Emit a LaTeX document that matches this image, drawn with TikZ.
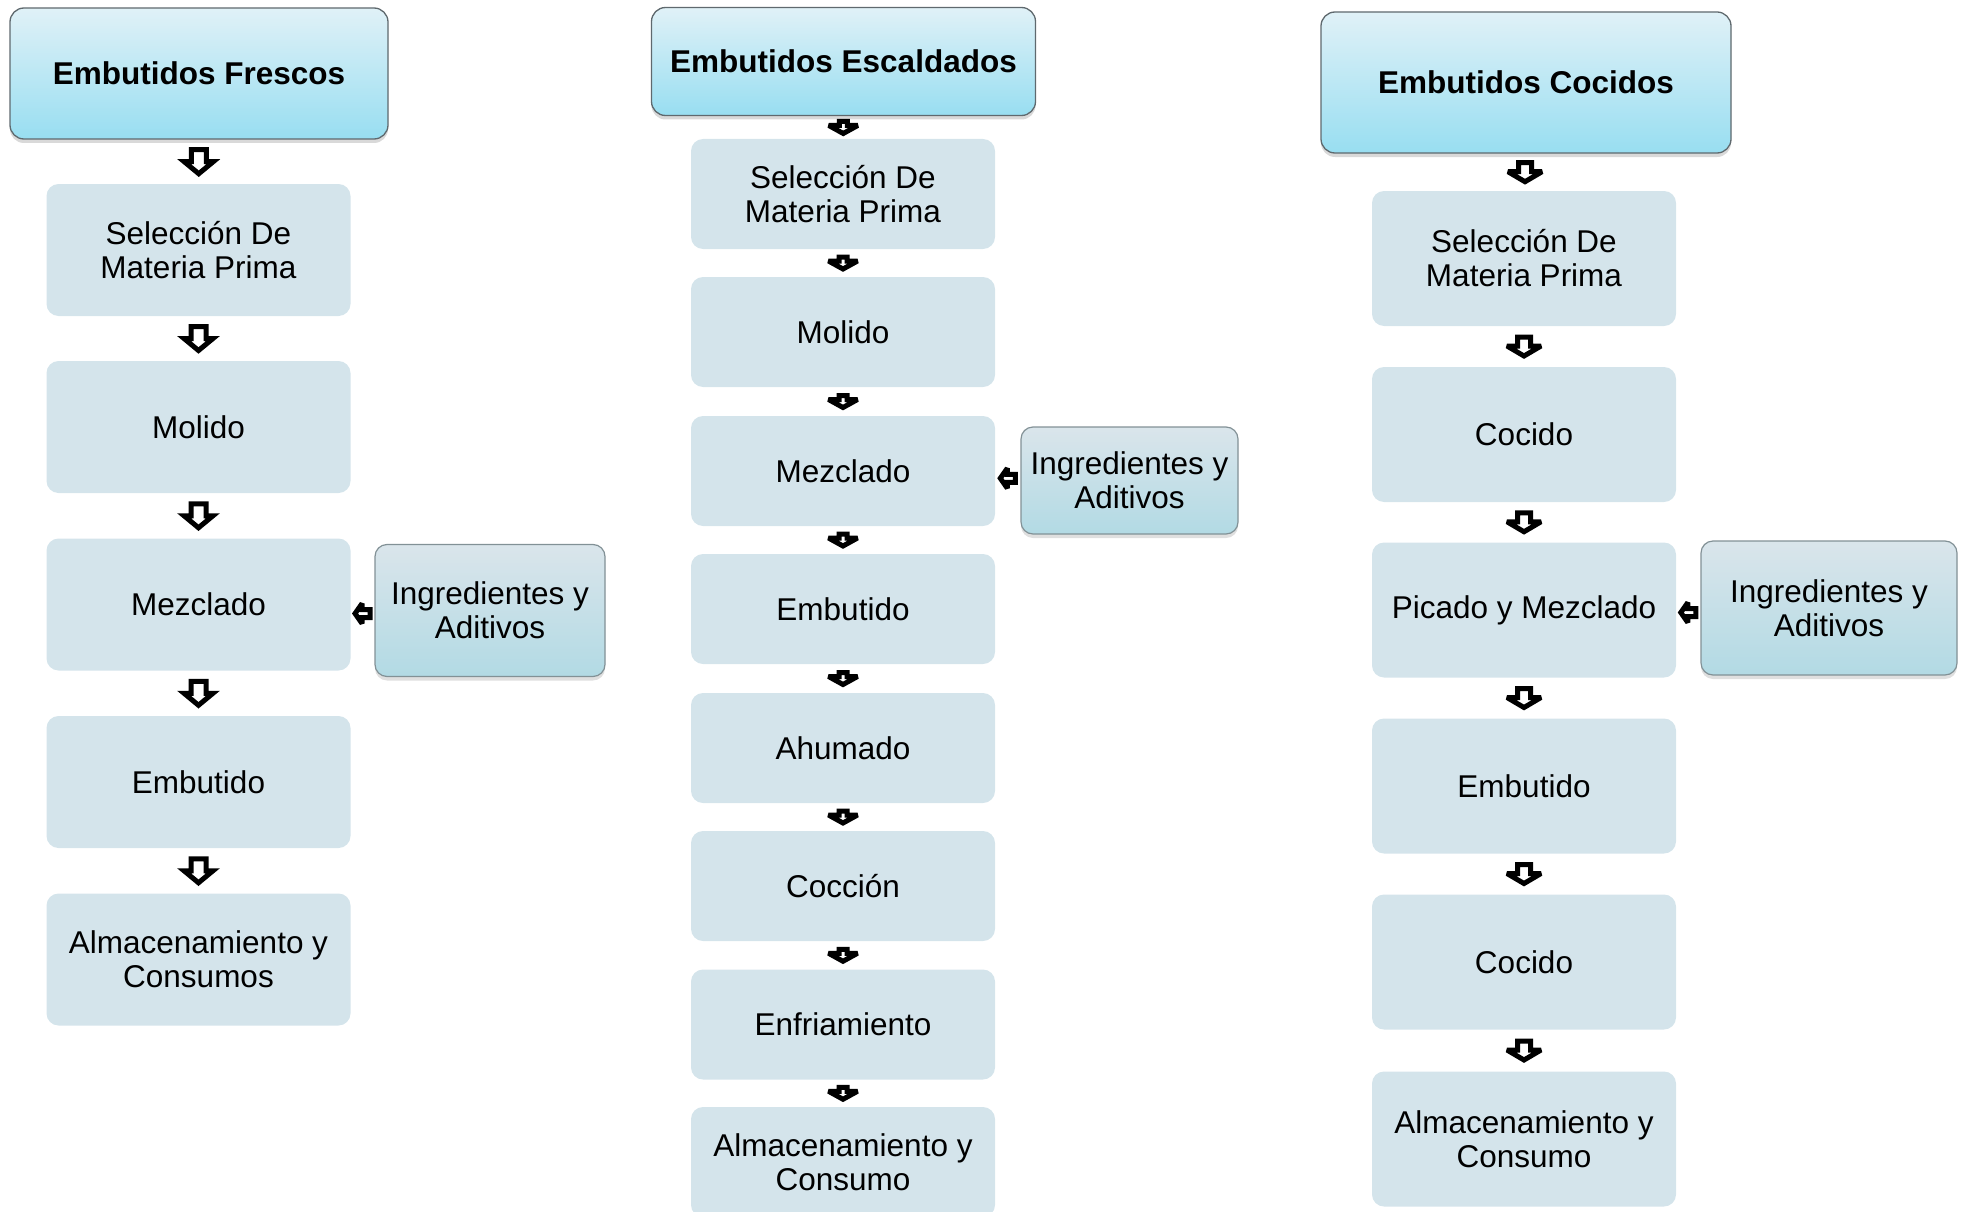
\documentclass[tikz,border=0pt]{standalone}
\usepackage{fontspec}
\setmainfont{Liberation Sans}
\usetikzlibrary{calc,shadows}
\definecolor{stepfill}{RGB}{212,228,235}
\definecolor{headtop}{RGB}{224,241,247}
\definecolor{headbot}{RGB}{152,222,241}
\definecolor{headline}{RGB}{95,105,110}
\definecolor{ingtop}{RGB}{218,229,235}
\definecolor{ingbot}{RGB}{178,218,228}
\definecolor{ingline}{RGB}{130,145,150}
\begin{document}
\begin{tikzpicture}[x=1pt,y=-1pt,
  txt/.style={font=\fontsize{31.5}{34}\selectfont},
  stepbox/.style={txt, rounded corners=12pt, fill=stepfill, inner sep=0pt, align=center, minimum width=304pt},
  headbox/.style={font=\fontsize{31.5}{34}\selectfont\bfseries, rounded corners=14pt, draw=headline, line width=1.3pt,
     top color=headtop, bottom color=headbot, inner sep=0pt, align=center,
     drop shadow={opacity=0.3, shadow xshift=0pt, shadow yshift=-4pt}},
  ingbox/.style={txt, rounded corners=12pt, draw=ingline, line width=1.2pt,
     top color=ingtop, bottom color=ingbot, inner sep=0pt, align=center,
     drop shadow={opacity=0.25, shadow xshift=0pt, shadow yshift=-4pt}},
  arrowline/.style={draw=black, fill=white, line width=5pt, line join=miter, miter limit=3},
  pics/blockdown/.style n args={4}{code={
     \path[arrowline] (-#3/2,-#2/2) -- (#3/2,-#2/2) -- (#3/2,-#2/2+#4) -- (#1/2,-#2/2+#4)
        -- (0,#2/2) -- (-#1/2,-#2/2+#4) -- (-#3/2,-#2/2+#4) -- cycle;}},
  pics/blockleft/.style n args={4}{code={
     \path[arrowline] (#1/2,-#3/2) -- (-#1/2+#4,-#3/2) -- (-#1/2+#4,-#2/2) -- (-#1/2,0)
        -- (-#1/2+#4,#2/2) -- (-#1/2+#4,#3/2) -- (#1/2,#3/2) -- cycle;}}
]
\useasboundingbox (0,0) rectangle (1967,1212);

% ---------- Column 1 ----------
\node[headbox, minimum width=378pt, minimum height=131pt] (h1) at (199,73.5) {Embutidos Frescos};
\node[stepbox, minimum height=132pt] (a1) at (198.5,250) {Selección De\\Materia Prima};
\node[stepbox, minimum height=132pt] (a2) at (198.5,427) {Molido};
\node[stepbox, minimum height=132pt] (a3) at (198.5,604.5) {Mezclado};
\node[stepbox, minimum height=132pt] (a4) at (198.5,782) {Embutido};
\node[stepbox, minimum height=132pt] (a5) at (198.5,959.5) {Almacenamiento y\\Consumos};
\node[ingbox, minimum width=230pt, minimum height=132pt] (i1) at (490,610.5) {Ingredientes y\\Aditivos};

\pic at ($(h1.south)!0.5!(a1.north)$) {blockdown={29}{24}{15}{12}};
\pic at ($(a1.south)!0.5!(a2.north)$) {blockdown={29}{24}{15}{12}};
\pic at ($(a2.south)!0.5!(a3.north)$) {blockdown={29}{24}{15}{12}};
\pic at ($(a3.south)!0.5!(a4.north)$) {blockdown={29}{24}{15}{12}};
\pic at ($(a4.south)!0.5!(a5.north)$) {blockdown={29}{24}{15}{12}};
\pic at ($(a3.east)!0.5!(i1.west)+(0,6)$) {blockleft={15}{20}{8}{7}};

% ---------- Column 2 ----------
\node[headbox, minimum width=384pt, minimum height=108pt] (h2) at (843.5,61.5) {Embutidos Escaldados};
\node[stepbox, minimum height=110pt] (b1) at (843,194) {Selección De\\Materia Prima};
\node[stepbox, minimum height=110pt] (b2) at (843,332) {Molido};
\node[stepbox, minimum height=110pt] (b3) at (843,471) {Mezclado};
\node[stepbox, minimum height=110pt] (b4) at (843,609) {Embutido};
\node[stepbox, minimum height=110pt] (b5) at (843,748) {Ahumado};
\node[stepbox, minimum height=110pt] (b6) at (843,886) {Cocción};
\node[stepbox, minimum height=110pt] (b7) at (843,1024.5) {Enfriamiento};
\node[stepbox, minimum height=110pt] (b8) at (843,1162) {Almacenamiento y\\Consumo};
\node[ingbox, minimum width=217pt, minimum height=107pt] (i2) at (1129.5,480.5) {Ingredientes y\\Aditivos};

\pic at ($(h2.south)!0.5!(b1.north)$) {blockdown={29}{12}{8}{4}};
\pic at ($(b1.south)!0.5!(b2.north)$) {blockdown={29}{12}{8}{4}};
\pic at ($(b2.south)!0.5!(b3.north)$) {blockdown={29}{12}{8}{4}};
\pic at ($(b3.south)!0.5!(b4.north)$) {blockdown={29}{12}{8}{4}};
\pic at ($(b4.south)!0.5!(b5.north)$) {blockdown={29}{12}{8}{4}};
\pic at ($(b5.south)!0.5!(b6.north)$) {blockdown={29}{12}{8}{4}};
\pic at ($(b6.south)!0.5!(b7.north)$) {blockdown={29}{12}{8}{4}};
\pic at ($(b7.south)!0.5!(b8.north)$) {blockdown={29}{12}{8}{4}};
\pic at ($(b3.east)!0.5!(i2.west)+(0,2.5)$) {blockleft={15}{20}{8}{7}};

% ---------- Column 3 ----------
\node[headbox, minimum width=410pt, minimum height=141pt] (h3) at (1526,82.5) {Embutidos Cocidos};
\node[stepbox, minimum height=135pt] (c1) at (1524,258.5) {Selección De\\Materia Prima};
\node[stepbox, minimum height=135pt] (c2) at (1524,434.5) {Cocido};
\node[stepbox, minimum height=135pt] (c3) at (1524,610) {Picado y Mezclado};
\node[stepbox, minimum height=135pt] (c4) at (1524,786) {Embutido};
\node[stepbox, minimum height=135pt] (c5) at (1524,962) {Cocido};
\node[stepbox, minimum height=135pt] (c6) at (1524,1139) {Almacenamiento y\\Consumo};
\node[ingbox, minimum width=256pt, minimum height=134pt] (i3) at (1829,608) {Ingredientes y\\Aditivos};

\pic at ($(h3.south)!0.5!(c1.north)$) {blockdown={34}{19}{13}{9}};
\pic at ($(c1.south)!0.5!(c2.north)$) {blockdown={34}{19}{13}{9}};
\pic at ($(c2.south)!0.5!(c3.north)$) {blockdown={34}{19}{13}{9}};
\pic at ($(c3.south)!0.5!(c4.north)$) {blockdown={34}{19}{13}{9}};
\pic at ($(c4.south)!0.5!(c5.north)$) {blockdown={34}{19}{13}{9}};
\pic at ($(c5.south)!0.5!(c6.north)$) {blockdown={34}{19}{13}{9}};
\pic at ($(c3.east)!0.5!(i3.west)+(0,3.5)$) {blockleft={15}{20}{8}{7}};
\end{tikzpicture}
\end{document}
